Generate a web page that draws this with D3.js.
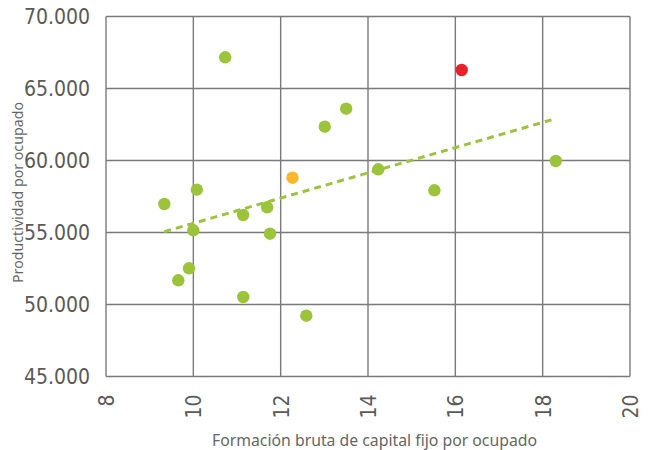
<!DOCTYPE html>
<html><head><meta charset="utf-8">
<script src="https://cdn.jsdelivr.net/npm/d3@7"></script>
<style>body{margin:0;background:#fff}svg{display:block}</style>
</head><body>
<script>
const capitalPorOcupado = [10.73, 12.27, 13.01, 9.335, 10.08, 11.14, 11.69, 16.145, 13.50, 14.235, 15.52, 18.30, 10.00, 11.755, 9.90, 9.656, 11.144, 12.587];
const productividad = [67167, 58806, 62347, 56979, 57972, 56215, 56750, 66285, 63598, 59389, 57931, 59965, 55153, 54917, 52514, 51681, 50521, 49222];
const grupo = ["g","o","g","g","g","g","g","r","g","g","g","g","g","g","g","g","g","g"];
const xTicks = [8, 10, 12, 14, 16, 18, 20];
const yTicks = [45000, 50000, 55000, 60000, 65000, 70000];
const xTitle = "Formación bruta de capital fijo por ocupado";
const yTitle = "Productividad por ocupado";

const W = 651, H = 450;
const m = {l:106, r:21, t:16.5, b:73.5};
const svg = d3.select("body").append("svg").attr("width", W).attr("height", H);
const x = d3.scaleLinear().domain([8, 20]).range([m.l, W - m.r]);
const y = d3.scaleLinear().domain([45000, 70000]).range([H - m.b, m.t]);
const colors = {g:"#9bc43b", o:"#fbb62a", r:"#e8202a"};
const tickFont = "'Liberation Sans Narrow', 'DejaVu Sans Condensed', sans-serif";
const fmtY = v => d3.format(",")(v).replace(/,/g, ".");

// grid
const g = svg.append("g");
g.selectAll("line.v").data(xTicks).join("line")
  .attr("x1", d => x(d)).attr("x2", d => x(d)).attr("y1", y(70000)).attr("y2", y(45000))
  .attr("stroke", "#7a7a7a").attr("stroke-width", 1.4);
g.selectAll("line.h").data(yTicks).join("line")
  .attr("y1", d => y(d)).attr("y2", d => y(d)).attr("x1", x(8)).attr("x2", x(20))
  .attr("stroke", "#7a7a7a").attr("stroke-width", 1.4);

// y axis labels
const yAxis = d3.axisLeft(y).tickValues(yTicks).tickSize(0).tickPadding(16).tickFormat(fmtY);
svg.append("g").attr("transform", `translate(${m.l},0)`).call(yAxis)
  .call(s => s.select(".domain").remove())
  .selectAll("text").attr("font-family", tickFont).attr("font-size", 21).attr("fill", "#5a5a5a");

// x axis labels rotated
const xAxis = d3.axisBottom(x).tickValues(xTicks).tickSize(0).tickFormat(d3.format("d"));
svg.append("g").attr("transform", `translate(0,${H - m.b})`).call(xAxis)
  .call(s => s.select(".domain").remove())
  .selectAll("text")
  .attr("font-family", tickFont).attr("font-size", 21).attr("fill", "#5a5a5a")
  .attr("transform", "rotate(-90)").attr("text-anchor", "end")
  .attr("x", -18).attr("y", 0).attr("dy", "0.35em");

// trend line (least squares)
const n = capitalPorOcupado.length;
const mx = d3.mean(capitalPorOcupado), my = d3.mean(productividad);
let sxy = 0, sxx = 0;
for (let i = 0; i < n; i++) { sxy += (capitalPorOcupado[i]-mx)*(productividad[i]-my); sxx += (capitalPorOcupado[i]-mx)**2; }
const slope = sxy / sxx, icpt = my - slope * mx;
const [x0, x1] = d3.extent(capitalPorOcupado);
const xe = x1 - 0.07;
svg.append("line")
  .attr("x1", x(x0)).attr("y1", y(icpt + slope*x0))
  .attr("x2", x(xe)).attr("y2", y(icpt + slope*xe))
  .attr("stroke", "#9bc43b").attr("stroke-width", 3).attr("stroke-dasharray", "7,5");

// points
svg.append("g").selectAll("circle").data(d3.range(n)).join("circle")
  .attr("cx", i => x(capitalPorOcupado[i])).attr("cy", i => y(productividad[i]))
  .attr("r", 6.2).attr("fill", i => colors[grupo[i]]);

// titles
svg.append("text").attr("x", 374.5).attr("y", 446).attr("text-anchor", "middle")
  .attr("font-family", "'Noto Sans', sans-serif").attr("font-size", 15.5).attr("fill", "#666")
  .attr("textLength", 325).attr("lengthAdjust", "spacingAndGlyphs").text(xTitle);
svg.append("text").attr("transform", `translate(23,192.5) rotate(-90)`).attr("text-anchor", "middle")
  .attr("font-family", "'Noto Sans', sans-serif").attr("font-size", 15).attr("fill", "#666")
  .attr("textLength", 181).attr("lengthAdjust", "spacingAndGlyphs").text(yTitle);
</script>
</body></html>
